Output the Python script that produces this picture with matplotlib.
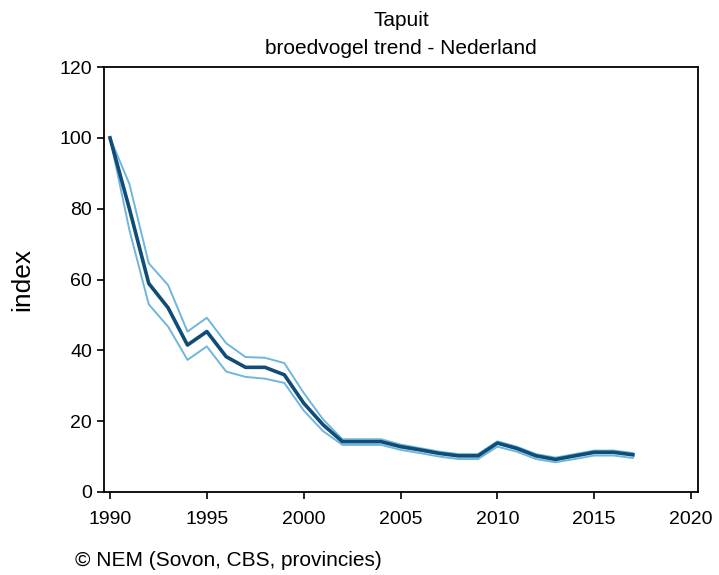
import matplotlib
matplotlib.use("Agg")
import matplotlib.pyplot as plt

# index values (1990 = 100)
years = list(range(1990, 2018))
index = [100, 80, 58.9, 52, 41.5, 45.3, 38.2, 35.2, 35.2, 33.1,
         25.1, 19.0, 14.2, 14.2, 14.2, 12.8, 11.9, 10.9, 10.2, 10.2,
         13.8, 12.3, 10.2, 9.2, 10.2, 11.2, 11.2, 10.5]
upper = [100, 87, 64.6, 58.4, 45.3, 49.2, 42.0, 38.1, 37.9, 36.4,
         28.0, 20.5, 14.9, 14.9, 14.9, 13.4, 12.4, 11.4, 10.7, 10.7,
         14.3, 12.8, 10.7, 9.7, 10.7, 11.7, 11.7, 11.0]
lower = [100, 74, 53.0, 46.7, 37.3, 41.1, 34.0, 32.5, 32.0, 30.8,
         23.0, 17.2, 13.3, 13.3, 13.3, 11.9, 11.0, 10.0, 9.3, 9.3,
         12.8, 11.4, 9.3, 8.4, 9.3, 10.3, 10.3, 9.6]

xticks = [1990, 1995, 2000, 2005, 2010, 2015, 2020]
yticks = [0, 20, 40, 60, 80, 100, 120]

plt.rcParams['font.family'] = ['Liberation Sans', 'DejaVu Sans']

fig = plt.figure(figsize=(7.19, 5.75), dpi=100)
ax = fig.add_axes([104/719, 1 - 492/575, (698-104)/719, (492-67)/575])

band_col = '#6fb7da'
main_col = '#0f4c78'
ax.plot(years, upper, color=band_col, lw=1.4)
ax.plot(years, lower, color=band_col, lw=1.4)
ax.plot(years, index, color=main_col, lw=2.6)

ax.set_xlim(1989.69, 2020.36)
ax.set_ylim(0, 120)
ax.set_xticks(xticks)
ax.set_yticks(yticks)
ax.tick_params(direction='out', length=5, width=1.2, labelsize=14, colors='black')
ax.tick_params(axis='x', pad=9)
for s in ax.spines.values():
    s.set_linewidth(1.3)

ax.set_ylabel('index', fontsize=19, labelpad=18)

fig.text(401/719, 1 - 20/575, 'Tapuit', ha='center', va='center', fontsize=15)
fig.text(401/719, 1 - 48/575, 'broedvogel trend - Nederland', ha='center', va='center', fontsize=15)
fig.text(75/719, 1 - 561/575, '\u00a9 NEM (Sovon, CBS, provincies)', ha='left', va='center', fontsize=15)

fig.savefig('out.png', dpi=100)
